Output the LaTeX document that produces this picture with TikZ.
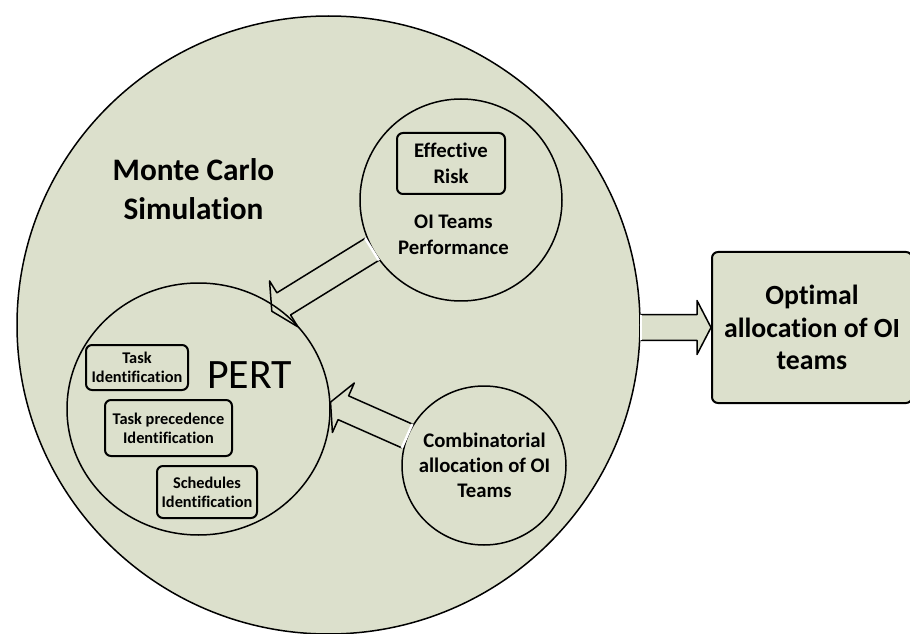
\documentclass[tikz,border=0pt]{standalone}
\usepackage{fontspec}
\setmainfont[Ligatures=NoCommon]{Carlito}
\usetikzlibrary{shapes.geometric,calc}
\definecolor{mcfill}{RGB}{220,224,204}
\pgfdeclarelayer{back}
\pgfsetlayers{back,main}
\tikzset{
  bubble/.style={ellipse, draw, line width=0.03cm, fill=mcfill, inner sep=0pt},
  taskbox/.style={rectangle, rounded corners=0.12cm, draw, line width=0.04cm, fill=mcfill,
    align=center, inner sep=0pt, font=\bfseries\fontsize{9.3}{11}\selectfont},
  label text/.style={align=center, inner sep=0pt},
}
% block arrow from #2 (back) to #3 (tip), path options #1
\newcommand{\fatarrow}[3]{%
  \coordinate (hb) at ($(#3)!0.28cm!(#2)$);
  \path[#1] ($(#2)!0.26cm!90:(#3)$) -- ($(hb)!0.26cm!90:(#3)$) -- ($(hb)!0.54cm!90:(#3)$) -- (#3)
    -- ($(hb)!0.54cm!-90:(#3)$) -- ($(hb)!0.26cm!-90:(#3)$) -- ($(#2)!0.26cm!-90:(#3)$);
}
\newcommand{\arrowback}[2]{%
  \draw[white, line width=0.05cm] ($(#1)!0.26cm!90:(#2)$) -- ($(#1)!0.26cm!-90:(#2)$);
}
\begin{document}
\begin{tikzpicture}[line join=round]
\useasboundingbox (0,0) rectangle (18.2,12.66);

% Drawing Monte Carlo ellipse
\begin{pgfonlayer}{back}
\node[bubble, minimum width=12.46cm, minimum height=12.36cm] (mc) at (6.57,6.16) {};
\end{pgfonlayer}
\node[label text, font=\bfseries\fontsize{17.8}{22.1}\selectfont] (mclabel) at (3.87,8.87) {Monte Carlo\\Simulation};

% Drawing PERT circle
\node[bubble, minimum width=5.26cm, minimum height=5.04cm] (pert) at (3.97,4.48) {};
\node[label text, font=\fontsize{23.8}{28}\selectfont] (pertlabel) at (4.99,5.16) {PERT};
\node[taskbox, minimum width=2.04cm, minimum height=0.90cm] (taskid) at (2.74,5.31) {Task\\Identification};
\node[taskbox, minimum width=2.54cm, minimum height=1.12cm] (precid) at (3.37,4.10) {Task precedence\\Identification};
\node[taskbox, minimum width=2.00cm, minimum height=1.04cm] (schedid) at (4.14,2.82) {Schedules\\Identification};

% Drawing performance circle
\node[bubble, minimum size=4.04cm] (perf) at (9.22,8.66) {};
\node[taskbox, font=\bfseries\fontsize{11.8}{14.7}\selectfont, minimum width=2.16cm, minimum height=1.22cm] (risk) at (9.02,9.39) {Effective\\Risk};
\node[label text, font=\bfseries\fontsize{11.8}{14.7}\selectfont] (perflabel) at (9.07,7.96) {OI Teams\\Performance};

% Drawing combinatorial circle
\node[bubble, minimum width=3.28cm, minimum height=3.18cm] (comb) at (9.68,3.35) {};
\node[label text, font=\bfseries\fontsize{11.8}{14.2}\selectfont] (comblabel) at (9.69,3.36) {Combinatorial\\allocation of OI\\Teams};

% Drawing result box
\node[taskbox, font=\bfseries\fontsize{15.8}{18.4}\selectfont, minimum width=4.0cm, minimum height=3.02cm] (opt) at (16.24,6.11) {Optimal\\allocation of OI\\teams};

% Arrow end points
\coordinate (tipup) at ($(pert.52)!-0.14cm!(perf.209)$);
\coordinate (tiplow) at (pert.3);
\coordinate (backright) at (mc.east |- opt.west);

% Drawing arrows
\begin{pgfonlayer}{back}
\fatarrow{fill=mcfill}{perf.209}{tipup}
\fatarrow{fill=mcfill}{comb.159}{tiplow}
\fatarrow{fill=mcfill}{backright}{opt.west}
\end{pgfonlayer}
\fatarrow{draw, line width=0.03cm}{perf.209}{tipup}
\fatarrow{draw, line width=0.03cm}{comb.159}{tiplow}
\fatarrow{draw, line width=0.03cm}{backright}{opt.west}
\arrowback{perf.209}{tipup}
\arrowback{comb.159}{tiplow}
\arrowback{backright}{opt.west}
\end{tikzpicture}
\end{document}
